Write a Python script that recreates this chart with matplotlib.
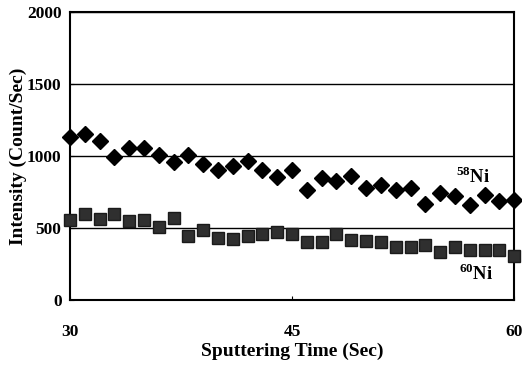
import numpy as np
import matplotlib.pyplot as plt

plt.rcParams['font.family'] = ['Liberation Serif', 'DejaVu Serif']
plt.rcParams['font.weight'] = 'bold'
plt.rcParams['mathtext.fontset'] = 'custom'
plt.rcParams['mathtext.rm'] = 'Liberation Serif:bold'
plt.rcParams['mathtext.bf'] = 'Liberation Serif:bold'

# sputtering time, one reading per second
time_s = list(range(30, 61))

ni58 = [1134, 1152, 1106, 994, 1059, 1059, 1008, 957, 1008, 948, 901,
        929, 966, 906, 855, 906, 762, 845, 827, 864, 780, 799, 767, 780,
        669, 743, 720, 660, 730, 688, 692]
ni60 = [557, 599, 562, 595, 548, 557, 506, 567, 441, 488, 432, 423,
        446, 455, 469, 455, 404, 404, 455, 418, 409, 404, 371, 371,
        381, 334, 371, 348, 348, 344, 302]

xticks = [30, 45, 60]
yticks = [0, 500, 1000, 1500, 2000]

fig = plt.figure(figsize=(5.22, 3.68), dpi=100)
ax = fig.add_axes([0.134, 0.185, 0.851, 0.782])

for y in yticks[1:]:
    ax.axhline(y, color='black', lw=1.0, zorder=1)

ax.plot(time_s, ni58, ls='none', marker='D', ms=8.5, color='black',
        zorder=3, clip_on=False)
ax.plot(time_s, ni60, ls='none', marker='s', ms=8, color='#2f2f2f',
        markeredgecolor='#1a1a1a', zorder=3, clip_on=False)

ax.text(56.1, 860, r'$^{\mathrm{58}}$Ni', fontsize=13.5, fontweight='bold',
        va='center')
ax.text(56.3, 185, r'$^{\mathrm{60}}$Ni', fontsize=13.5, fontweight='bold',
        va='center')

ax.set_xlim(30, 60)
ax.set_ylim(0, 2000)
ax.set_xticks(xticks)
ax.set_yticks(yticks)
ax.tick_params(axis='both', direction='in', length=3, labelsize=12.5, pad=6)
ax.tick_params(axis='x', pad=17)
for sp in ax.spines.values():
    sp.set_linewidth(1.5)

ax.set_xlabel('Sputtering Time (Sec)', fontsize=14, fontweight='bold',
              labelpad=2)
ax.set_ylabel('Intensity (Count/Sec)', fontsize=14, fontweight='bold',
              labelpad=0)

fig.savefig('out.png', dpi=100)
